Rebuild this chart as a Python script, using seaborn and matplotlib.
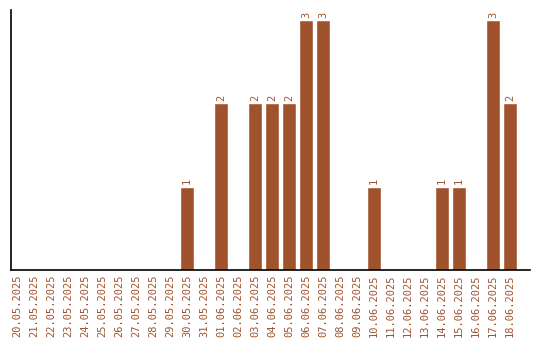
import matplotlib
matplotlib.use("Agg")
import matplotlib.pyplot as plt
import seaborn as sns
import pandas as pd

dates = ["20.05.2025","21.05.2025","22.05.2025","23.05.2025","24.05.2025","25.05.2025",
         "26.05.2025","27.05.2025","28.05.2025","29.05.2025","30.05.2025","31.05.2025",
         "01.06.2025","02.06.2025","03.06.2025","04.06.2025","05.06.2025","06.06.2025",
         "07.06.2025","08.06.2025","09.06.2025","10.06.2025","11.06.2025","12.06.2025",
         "13.06.2025","14.06.2025","15.06.2025","16.06.2025","17.06.2025","18.06.2025"]
counts = [0,0,0,0,0,0,0,0,0,0,1,0,2,0,2,2,2,3,3,0,0,1,0,0,0,1,1,0,3,2]

color = "#A0522D"
sns.set_style("white")
plt.rcParams['font.family'] = ['DejaVu Sans Mono', 'DejaVu Sans']

df = pd.DataFrame({"date": dates, "count": counts})
fig = plt.figure(figsize=(5.4, 3.4), dpi=100)
ax = fig.add_axes([11/540, 70/340, 519/540, 260/340])
sns.barplot(data=df, x="date", y="count", color=color, width=0.85, saturation=1, ax=ax)
ax.set_xlim(-0.35, 30.18)
ax.set_ylim(0, 3.12)
ax.set_xlabel("")
ax.set_ylabel("")
ax.set_yticks([])
ax.tick_params(axis="x", length=0, pad=3, labelsize=7.5, labelcolor=color, rotation=90)
for s in ["top", "right"]:
    ax.spines[s].set_visible(False)
for s in ["left", "bottom"]:
    ax.spines[s].set_color("black")
    ax.spines[s].set_linewidth(1.2)
for i, v in enumerate(counts):
    if v > 0:
        ax.text(i, v + 0.03, str(v), rotation=90, ha="center", va="bottom",
                fontsize=7.5, color=color)
fig.savefig("out.png", dpi=100)
